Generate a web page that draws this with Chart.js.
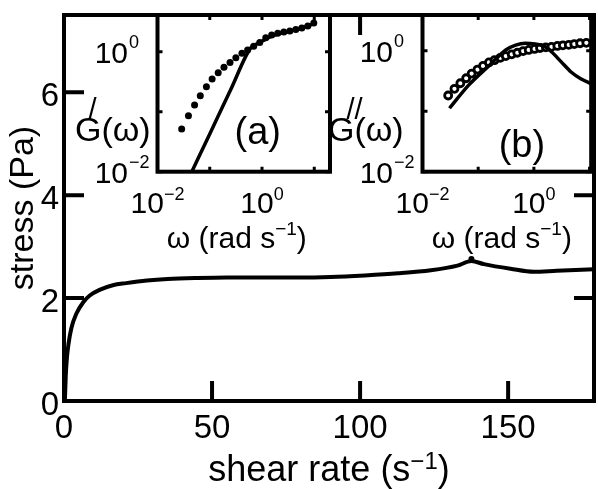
<!DOCTYPE html>
<html>
<head>
<meta charset="utf-8">
<script src="https://cdn.jsdelivr.net/npm/chart.js@4.4.0/dist/chart.umd.min.js"></script>
<style>
body { margin: 0; background: #fff; }
#wrap { position: relative; width: 598px; height: 489px; overflow: hidden; }
canvas { position: absolute; }
</style>
</head>
<body>
<div id="wrap">
  <canvas id="mainChart" width="598" height="489" style="left:0;top:0"></canvas>
  <canvas id="insetA" width="275" height="265" style="left:60px;top:0"></canvas>
  <canvas id="insetB" width="278" height="265" style="left:320px;top:0"></canvas>
</div>
<script>
// Main plot: stress vs shear rate
const shearRate = [0.3, 0.6, 1.0, 1.5, 2.5, 4.2, 6.5, 8.7, 12, 16.5, 21, 28, 35, 45, 55, 65, 79, 90, 101.6, 112.8, 123.9, 132.9, 137.6, 141.8, 150.8, 158.6, 166.4, 179];
const stress = [0, 0.5, 0.85, 1.1, 1.42, 1.7, 1.92, 2.05, 2.16, 2.25, 2.29, 2.34, 2.37, 2.39, 2.40, 2.40, 2.40, 2.41, 2.44, 2.48, 2.54, 2.63, 2.72, 2.66, 2.57, 2.51, 2.53, 2.56];
const peakRate = [137.6];
const peakStress = [2.76];
const mainXTicks = [0, 50, 100, 150];
const mainYTicks = [0, 2, 4, 6];

// Inset (a): storage modulus
const omegaA = [0.029, 0.0391, 0.0512, 0.0659, 0.0863, 0.111, 0.145, 0.187, 0.244, 0.316, 0.413, 0.53, 0.693, 0.904, 1.18, 1.53, 2.0, 2.61, 3.4, 4.43, 5.77, 7.52, 9.79];
const gPrime = [0.0515, 0.0857, 0.129, 0.185, 0.261, 0.351, 0.447, 0.55, 0.665, 0.794, 0.94, 1.07, 1.24, 1.43, 1.72, 1.91, 2.03, 2.13, 2.21, 2.34, 2.5, 2.69, 3.01];
const omegaFitA = [0.0437, 0.1, 0.251, 0.603, 0.794, 1.12, 1.58, 2.51, 3.98, 6.31, 10];
const gPrimeFit = [0.00933, 0.0427, 0.232, 1.15, 1.35, 1.58, 1.84, 2.07, 2.29, 2.57, 2.95];

// Inset (b): loss modulus
const omegaB = [0.0289, 0.0375, 0.0478, 0.0608, 0.0762, 0.0973, 0.122, 0.156, 0.196, 0.25, 0.313, 0.4, 0.504, 0.641, 0.807, 1.03, 1.29, 1.64, 2.07, 2.64, 3.32, 4.23, 5.31, 6.76, 8.75];
const gDouble = [0.182, 0.235, 0.29, 0.351, 0.419, 0.489, 0.561, 0.64, 0.698, 0.764, 0.815, 0.871, 0.927, 0.989, 1.03, 1.07, 1.11, 1.14, 1.16, 1.2, 1.23, 1.25, 1.29, 1.33, 1.35];
const omegaFitB = [0.0306, 0.0668, 0.16, 0.313, 0.47, 0.703, 1.05, 1.58, 2.07, 3.1, 4.65, 6.95, 10.7];
const gDoubleFit = [0.112, 0.267, 0.577, 1.03, 1.24, 1.33, 1.29, 1.17, 0.962, 0.655, 0.446, 0.345, 0.285];

const insetXTicks = [0.01, 0.1, 1, 10];
const insetYTicks = [0.01, 0.1, 1];
const insetXLabels = [[0.01, "10", "\u22122"], [1, "10", "0"]];
const insetYLabels = [[0.01, "10", "\u22122"], [1, "10", "0"]];

const FONT = '"Liberation Sans", Arial, sans-serif';

function pts(xs, ys) {
    return xs.map((x, i) => ({ x: x, y: ys[i] }));
}

// draw a row of text pieces, each {t, size, dy}
function drawPieces(ctx, pieces, x, y, align) {
    let total = 0;
    for (const p of pieces) {
        ctx.font = p.size + "px " + FONT;
        p.w = ctx.measureText(p.t).width;
        total += p.w;
    }
    let cx = x;
    if (align == "center") cx = x - total / 2;
    if (align == "right") cx = x - total;
    ctx.textAlign = "left";
    for (const p of pieces) {
        ctx.font = p.size + "px " + FONT;
        ctx.fillText(p.t, cx, y - (p.dy || 0));
        cx += p.w;
    }
}

const mainFrame = {
    id: "mainFrame",
    afterDatasetsDraw(chart) {
        const ctx = chart.ctx;
        const a = chart.chartArea;
        const xs = chart.scales.x, ys = chart.scales.y;
        ctx.save();
        ctx.strokeStyle = "#000";
        ctx.fillStyle = "#000";
        ctx.lineWidth = 4;
        ctx.lineCap = "butt";
        ctx.strokeRect(a.left, a.top, a.right - a.left, a.bottom - a.top);
        ctx.beginPath();
        for (const v of mainXTicks) {
            const px = xs.getPixelForValue(v);
            ctx.moveTo(px, a.bottom); ctx.lineTo(px, a.bottom - 20);
            ctx.moveTo(px, a.top); ctx.lineTo(px, a.top + 20);
        }
        for (const v of mainYTicks) {
            const py = ys.getPixelForValue(v);
            ctx.moveTo(a.left, py); ctx.lineTo(a.left + 20, py);
            ctx.moveTo(a.right, py); ctx.lineTo(a.right - 20, py);
        }
        ctx.stroke();

        ctx.font = "33px " + FONT;
        ctx.textBaseline = "alphabetic";
        ctx.textAlign = "center";
        for (const v of mainXTicks) {
            ctx.fillText(String(v), xs.getPixelForValue(v), 438);
        }
        ctx.textAlign = "right";
        for (const v of mainYTicks) {
            ctx.fillText(String(v), 59, ys.getPixelForValue(v) + 14);
        }
        drawPieces(ctx, [
            { t: "shear rate (s", size: 36 },
            { t: "\u22121", size: 24, dy: 12 },
            { t: ")", size: 36 }
        ], (a.left + a.right) / 2, 481, "center");

        ctx.translate(33, (a.top + a.bottom) / 2);
        ctx.rotate(-Math.PI / 2);
        ctx.textAlign = "center";
        ctx.font = "34px " + FONT;
        ctx.fillText("stress (Pa)", 0, 0);
        ctx.restore();
    }
};

function insetFrame(opt) {
    return {
        id: "insetFrame",
        beforeDraw(chart) {
            const a = chart.chartArea;
            const ctx = chart.ctx;
            ctx.save();
            ctx.fillStyle = "#fff";
            ctx.fillRect(a.left, a.top, a.right - a.left, a.bottom - a.top);
            ctx.restore();
        },
        afterDatasetsDraw(chart) {
            const ctx = chart.ctx;
            const a = chart.chartArea;
            const xs = chart.scales.x, ys = chart.scales.y;
            ctx.save();
            ctx.strokeStyle = "#000";
            ctx.fillStyle = "#000";
            ctx.lineWidth = 4;
            ctx.strokeRect(a.left, a.top, a.right - a.left, a.bottom - a.top);
            ctx.lineWidth = 3;
            ctx.beginPath();
            for (const v of insetXTicks) {
                const px = xs.getPixelForValue(v);
                ctx.moveTo(px, a.bottom); ctx.lineTo(px, a.bottom - 5);
                ctx.moveTo(px, a.top); ctx.lineTo(px, a.top + 5);
            }
            for (const v of insetYTicks) {
                const py = ys.getPixelForValue(v);
                ctx.moveTo(a.left, py); ctx.lineTo(a.left + 5, py);
                ctx.moveTo(a.right, py); ctx.lineTo(a.right - 5, py);
            }
            ctx.stroke();

            ctx.textBaseline = "alphabetic";
            for (const [v, base, exp] of insetXLabels) {
                drawPieces(ctx, [
                    { t: base, size: 30 },
                    { t: exp, size: 18, dy: 13 }
                ], xs.getPixelForValue(v), a.bottom + 41, "center");
            }
            for (const [v, base, exp] of insetYLabels) {
                const py = ys.getPixelForValue(v) + 11;
                ctx.font = "30px " + FONT;
                ctx.textAlign = "right";
                ctx.fillText(base, a.left - 29.5, py);
                ctx.textAlign = "left";
                ctx.font = "18px " + FONT;
                ctx.fillText(exp, a.left - 28.5, py - 15);
            }

            // G'(w) / G''(w) label
            const gx = a.left + opt.gOffset;
            const gy = a.top + 126;
            ctx.textAlign = "left";
            ctx.font = "34px " + FONT;
            ctx.fillText("G", gx, gy);
            const gw = ctx.measureText("G").width;
            ctx.fillText("(\u03c9)", gx + gw + opt.parenGap, gy);
            ctx.font = "29px " + FONT;
            ctx.fillText(opt.prime, gx + gw + opt.primeDx, gy - 22);

            drawPieces(ctx, [
                { t: "\u03c9 (rad s", size: 30 },
                { t: "\u22121", size: 19, dy: 13 },
                { t: ")", size: 30 }
            ], (a.left + a.right) / 2 + opt.omegaDx, a.bottom + 76, "center");

            ctx.font = "38px " + FONT;
            ctx.textAlign = "center";
            ctx.fillText(opt.tag, (a.left + a.right) / 2 + opt.tagDx, a.bottom + opt.tagDy);
            ctx.restore();
        }
    };
}

const baseOptions = (pad, xMax, yMax) => ({
    responsive: false,
    animation: false,
    devicePixelRatio: 1,
    layout: { padding: pad },
    scales: {
        x: { type: "logarithmic", min: 0.01, max: xMax, display: false },
        y: { type: "logarithmic", min: 0.01, max: yMax, display: false }
    },
    plugins: { legend: { display: false }, tooltip: { enabled: false } }
});

new Chart(document.getElementById("mainChart"), {
    type: "line",
    data: {
        datasets: [
            {
                data: pts(shearRate, stress),
                borderColor: "#000",
                borderWidth: 4,
                pointRadius: 0,
                cubicInterpolationMode: "monotone",
                fill: false
            },
            {
                data: pts(peakRate, peakStress),
                showLine: false,
                pointRadius: 3,
                pointBackgroundColor: "#000",
                pointBorderWidth: 0
            }
        ]
    },
    options: {
        responsive: false,
        animation: false,
        devicePixelRatio: 1,
        layout: { padding: { left: 64, top: 15, right: 1, bottom: 88 } },
        scales: {
            x: { type: "linear", min: 0, max: 179, display: false },
            y: { type: "linear", min: 0, max: 7.5, display: false }
        },
        plugins: { legend: { display: false }, tooltip: { enabled: false } }
    },
    plugins: [mainFrame]
});

new Chart(document.getElementById("insetA"), {
    type: "line",
    data: {
        datasets: [
            {
                data: pts(omegaFitA, gPrimeFit),
                borderColor: "#000",
                borderWidth: 3.5,
                pointRadius: 0,
                cubicInterpolationMode: "monotone"
            },
            {
                data: pts(omegaA, gPrime),
                showLine: false,
                pointRadius: 3.5,
                pointBackgroundColor: "#000",
                pointBorderWidth: 0
            }
        ]
    },
    options: baseOptions({ left: 97.5, top: 15, right: 5, bottom: 93.3 }, 20, 4.1),
    plugins: [insetFrame({ gOffset: -82.5, parenGap: 0, prime: "/", primeDx: -13, omegaDx: -7, tag: "(a)", tagDx: 14, tagDy: -28 })]
});

new Chart(document.getElementById("insetB"), {
    type: "line",
    data: {
        datasets: [
            {
                data: pts(omegaFitB, gDoubleFit),
                borderColor: "#000",
                borderWidth: 3.5,
                pointRadius: 0,
                cubicInterpolationMode: "monotone"
            },
            {
                data: pts(omegaB, gDouble),
                showLine: false,
                pointRadius: 3.5,
                pointBackgroundColor: "#fff",
                pointBorderColor: "#000",
                pointBorderWidth: 2.8
            }
        ]
    },
    options: baseOptions({ left: 102.5, top: 15, right: 2.5, bottom: 93.3 }, 10.7, 3.9),
    plugins: [insetFrame({ gOffset: -94.5, parenGap: 0, prime: "//", primeDx: -8, omegaDx: -5, tag: "(b)", tagDx: 15, tagDy: -15 })]
});
</script>
</body>
</html>
